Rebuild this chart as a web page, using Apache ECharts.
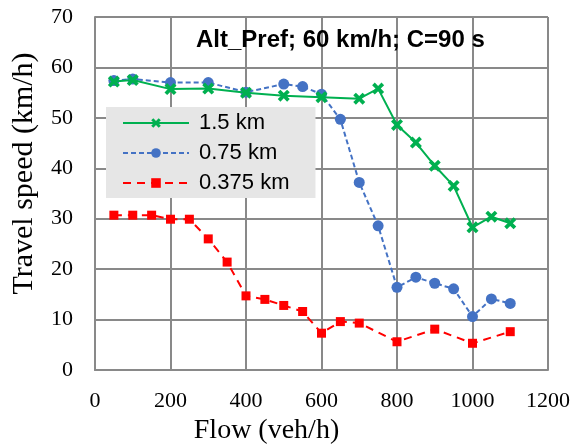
<!DOCTYPE html>
<html>
<head>
<meta charset="utf-8">
<script src="https://cdn.jsdelivr.net/npm/echarts@6/dist/echarts.min.js"></script>
<style>
  html, body { margin: 0; padding: 0; background: #fff; }
  #chart { width: 586px; height: 445px; }
</style>
</head>
<body>
<div id="chart"></div>
<script>
// Flow (veh/h) and travel speed (km/h) per series
const flow15 = [50, 100, 200, 300, 400, 500, 600, 700, 750, 800, 850, 900, 950, 1000, 1050, 1100];
const speed15 = [57.2, 57.5, 55.7, 55.8, 55.0, 54.4, 54.1, 53.8, 55.8, 48.6, 45.1, 40.5, 36.5, 28.3, 30.4, 29.1];

const flow075 = [50, 100, 200, 300, 400, 500, 550, 600, 650, 700, 750, 800, 850, 900, 950, 1000, 1050, 1100];
const speed075 = [57.4, 57.7, 57.0, 57.0, 55.1, 56.7, 56.2, 54.7, 49.7, 37.2, 28.6, 16.4, 18.4, 17.2, 16.1, 10.6, 14.1, 13.2];

const flow0375 = [50, 100, 150, 200, 250, 300, 350, 400, 450, 500, 550, 600, 650, 700, 800, 900, 1000, 1100];
const speed0375 = [30.7, 30.7, 30.7, 29.9, 29.9, 26.0, 21.4, 14.7, 14.0, 12.8, 11.6, 7.3, 9.6, 9.3, 5.6, 8.1, 5.3, 7.6];

const seriesNames = ['1.5 km', '0.75 km', '0.375 km'];

const pairs = (xs, ys) => xs.map((x, i) => [x, ys[i]]);

// thick "x" marker like the spreadsheet one
const crossPath = 'path://M0,2.2 L2.2,0 L5,2.8 L7.8,0 L10,2.2 L7.2,5 L10,7.8 L7.8,10 L5,7.2 L2.2,10 L0,7.8 L2.8,5 Z';

const serif = 'Liberation Serif';
const sans = 'Liberation Sans';

var myChart = echarts.init(document.getElementById('chart'));
var option;

option = {
    animation: false,
    title: {
        text: 'Alt_Pref; 60 km/h; C=90 s',
        left: 196,
        top: 28,
        padding: 0,
        textStyle: { fontFamily: sans, fontWeight: 'bold', fontSize: 24, color: '#000' }
    },
    legend: {
        data: seriesNames,
        orient: 'vertical',
        left: 106,
        top: 107,
        padding: [5, 26, 4, 16],
        itemGap: 8,
        itemWidth: 66,
        itemHeight: 12,
        backgroundColor: '#e6e6e6',
        textStyle: { fontFamily: sans, fontSize: 22, color: '#000', padding: [0, 0, 0, 5] }
    },
    grid: { left: 95, right: 38, top: 17, bottom: 75, outerBoundsMode: 'none' },
    xAxis: {
        type: 'value',
        min: 0,
        max: 1200,
        interval: 200,
        name: 'Flow (veh/h)',
        nameLocation: 'middle',
        nameGap: 37,
        nameTextStyle: { fontFamily: serif, fontSize: 28, color: '#000', padding: [0, 110, 0, 0] },
        axisLine: { show: true, lineStyle: { color: '#898989', width: 2 } },
        axisTick: { show: false },
        axisLabel: {
            fontFamily: serif, fontSize: 22, color: '#000', margin: 20,
            formatter: v => String(v)
        },
        splitLine: { show: true, lineStyle: { color: '#898989', width: 2 } }
    },
    yAxis: {
        type: 'value',
        min: 0,
        max: 70,
        interval: 10,
        name: 'Travel speed (km/h)',
        nameLocation: 'middle',
        nameGap: 56,
        nameTextStyle: { fontFamily: serif, fontSize: 30, color: '#000', padding: [0, 0, 0, 40] },
        axisLine: { show: true, lineStyle: { color: '#898989', width: 2 } },
        axisTick: { show: false },
        axisLabel: { fontFamily: serif, fontSize: 22, color: '#000', margin: 22 },
        splitLine: { show: true, lineStyle: { color: '#898989', width: 2 } }
    },
    series: [
        {
            name: seriesNames[0],
            type: 'line',
            data: pairs(flow15, speed15),
            symbol: crossPath,
            symbolSize: 12,
            lineStyle: { color: '#00b050', width: 2 },
            itemStyle: { color: '#00b050' },
            z: 3
        },
        {
            name: seriesNames[1],
            type: 'line',
            data: pairs(flow075, speed075),
            symbol: 'circle',
            symbolSize: 11,
            lineStyle: { color: '#4472c4', width: 2, type: [5, 3] },
            itemStyle: { color: '#4472c4' },
            z: 2
        },
        {
            name: seriesNames[2],
            type: 'line',
            data: pairs(flow0375, speed0375),
            symbol: 'rect',
            symbolSize: 9,
            lineStyle: { color: '#ff0000', width: 2, type: [8, 6] },
            itemStyle: { color: '#ff0000' },
            z: 1
        }
    ]
};

option && myChart.setOption(option);
</script>
</body>
</html>
